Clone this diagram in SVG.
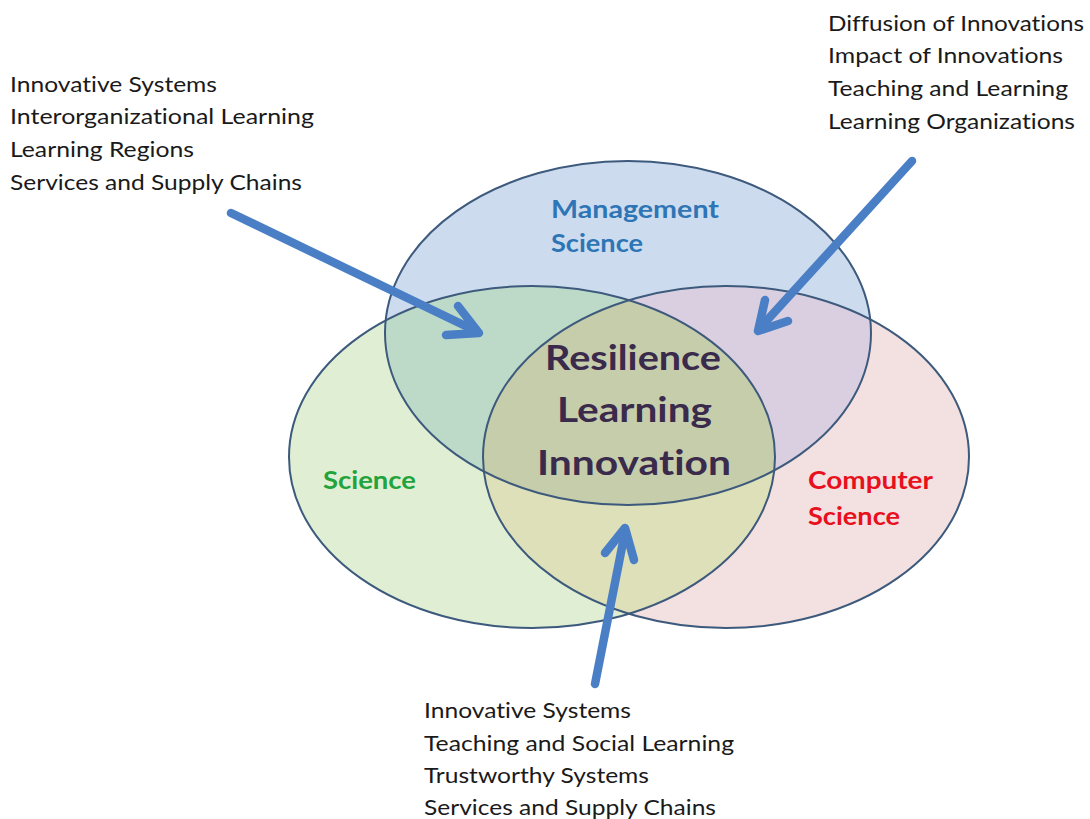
<svg xmlns="http://www.w3.org/2000/svg" width="1090" height="819" viewBox="0 0 1090 819">
<style>
text{font-variant-ligatures:none;font-feature-settings:"liga" 0,"dlig" 0}
.list{font-family:Lato,"Open Sans","Liberation Sans",sans-serif;font-size:21.5px;fill:#1a1a1a}
.lbl{font-family:Lato,"Open Sans","Liberation Sans",sans-serif;font-weight:bold;font-size:25px}
.ctr{font-family:Lato,"Open Sans","Liberation Sans",sans-serif;font-weight:bold;font-size:34px;fill:#3a2a4c}
.ol{fill:none;stroke:#3d5a7d;stroke-width:2}
.arr{fill:none;stroke:#4a7fc6;stroke-width:8.5;stroke-linecap:round;stroke-linejoin:round}
</style>
<defs>
<clipPath id="cM"><ellipse cx="628" cy="333" rx="243" ry="172"/></clipPath>
<clipPath id="cS"><ellipse cx="532" cy="457" rx="243" ry="171"/></clipPath>
<clipPath id="cC"><ellipse cx="726" cy="457" rx="243" ry="171"/></clipPath>
</defs>
<rect width="1090" height="819" fill="#ffffff"/>
<g id="fills">
<ellipse cx="628" cy="333" rx="243" ry="172" fill="#ccdcee"/>
<ellipse cx="532" cy="457" rx="243" ry="171" fill="#e0efd4"/>
<ellipse cx="726" cy="457" rx="243" ry="171" fill="#f3e0e0"/>
<ellipse cx="532" cy="457" rx="243" ry="171" fill="#bddac9" clip-path="url(#cM)"/>
<ellipse cx="726" cy="457" rx="243" ry="171" fill="#d9cfe0" clip-path="url(#cM)"/>
<ellipse cx="726" cy="457" rx="243" ry="171" fill="#dde0b9" clip-path="url(#cS)"/>
<g clip-path="url(#cM)"><ellipse cx="726" cy="457" rx="243" ry="171" fill="#c6cdab" clip-path="url(#cS)"/></g>
</g>
<g id="management">
<ellipse class="ol" cx="628" cy="333" rx="243" ry="172"/>
<text class="lbl" fill="#2e75b6"><tspan x="551" y="218" textLength="168" lengthAdjust="spacingAndGlyphs">Management</tspan><tspan x="551" y="252" textLength="92" lengthAdjust="spacingAndGlyphs">Science</tspan></text>
</g>
<g id="science">
<ellipse class="ol" cx="532" cy="457" rx="243" ry="171"/>
<text class="lbl" fill="#23a33b" x="323" y="489" textLength="93" lengthAdjust="spacingAndGlyphs">Science</text>
</g>
<g id="computer-science">
<ellipse class="ol" cx="726" cy="457" rx="243" ry="171"/>
<text class="lbl" fill="#e8101c"><tspan x="808" y="489" textLength="125" lengthAdjust="spacingAndGlyphs">Computer</tspan><tspan x="808" y="525" textLength="92" lengthAdjust="spacingAndGlyphs">Science</tspan></text>
</g>
<g id="center">
<text class="ctr"><tspan x="545" y="370" textLength="176" lengthAdjust="spacingAndGlyphs">Resilience</tspan><tspan x="557" y="422" textLength="155" lengthAdjust="spacingAndGlyphs">Learning</tspan><tspan x="537" y="475" textLength="194" lengthAdjust="spacingAndGlyphs">Innovation</tspan></text>
</g>
<g id="connectors">
<line class="arr" x1="231" y1="213" x2="476" y2="331"/>
<polyline class="arr" points="458,306 479,333 446,335"/>
<line class="arr" x1="912" y1="161" x2="761" y2="327"/>
<polyline class="arr" points="765,300 758,331 788,321"/>
<line class="arr" x1="595" y1="684" x2="625" y2="532"/>
<polyline class="arr" points="605,553 625,528 634,560"/>
</g>
<g id="list-left">
<text class="list"><tspan x="10" y="92" textLength="207" lengthAdjust="spacingAndGlyphs">Innovative Systems</tspan><tspan x="10" y="124" textLength="304" lengthAdjust="spacingAndGlyphs">Interorganizational Learning</tspan><tspan x="10" y="157" textLength="184" lengthAdjust="spacingAndGlyphs">Learning Regions</tspan><tspan x="10" y="190" textLength="292" lengthAdjust="spacingAndGlyphs">Services and Supply Chains</tspan></text>
</g>
<g id="list-right">
<text class="list"><tspan x="828" y="31" textLength="256" lengthAdjust="spacingAndGlyphs">Diffusion of Innovations</tspan><tspan x="828" y="63" textLength="235" lengthAdjust="spacingAndGlyphs">Impact of Innovations</tspan><tspan x="828" y="96" textLength="240" lengthAdjust="spacingAndGlyphs">Teaching and Learning</tspan><tspan x="828" y="129" textLength="247" lengthAdjust="spacingAndGlyphs">Learning Organizations</tspan></text>
</g>
<g id="list-bottom">
<text class="list"><tspan x="424" y="718" textLength="207" lengthAdjust="spacingAndGlyphs">Innovative Systems</tspan><tspan x="424" y="751" textLength="310" lengthAdjust="spacingAndGlyphs">Teaching and Social Learning</tspan><tspan x="424" y="783" textLength="225" lengthAdjust="spacingAndGlyphs">Trustworthy Systems</tspan><tspan x="424" y="815" textLength="292" lengthAdjust="spacingAndGlyphs">Services and Supply Chains</tspan></text>
</g>
</svg>
